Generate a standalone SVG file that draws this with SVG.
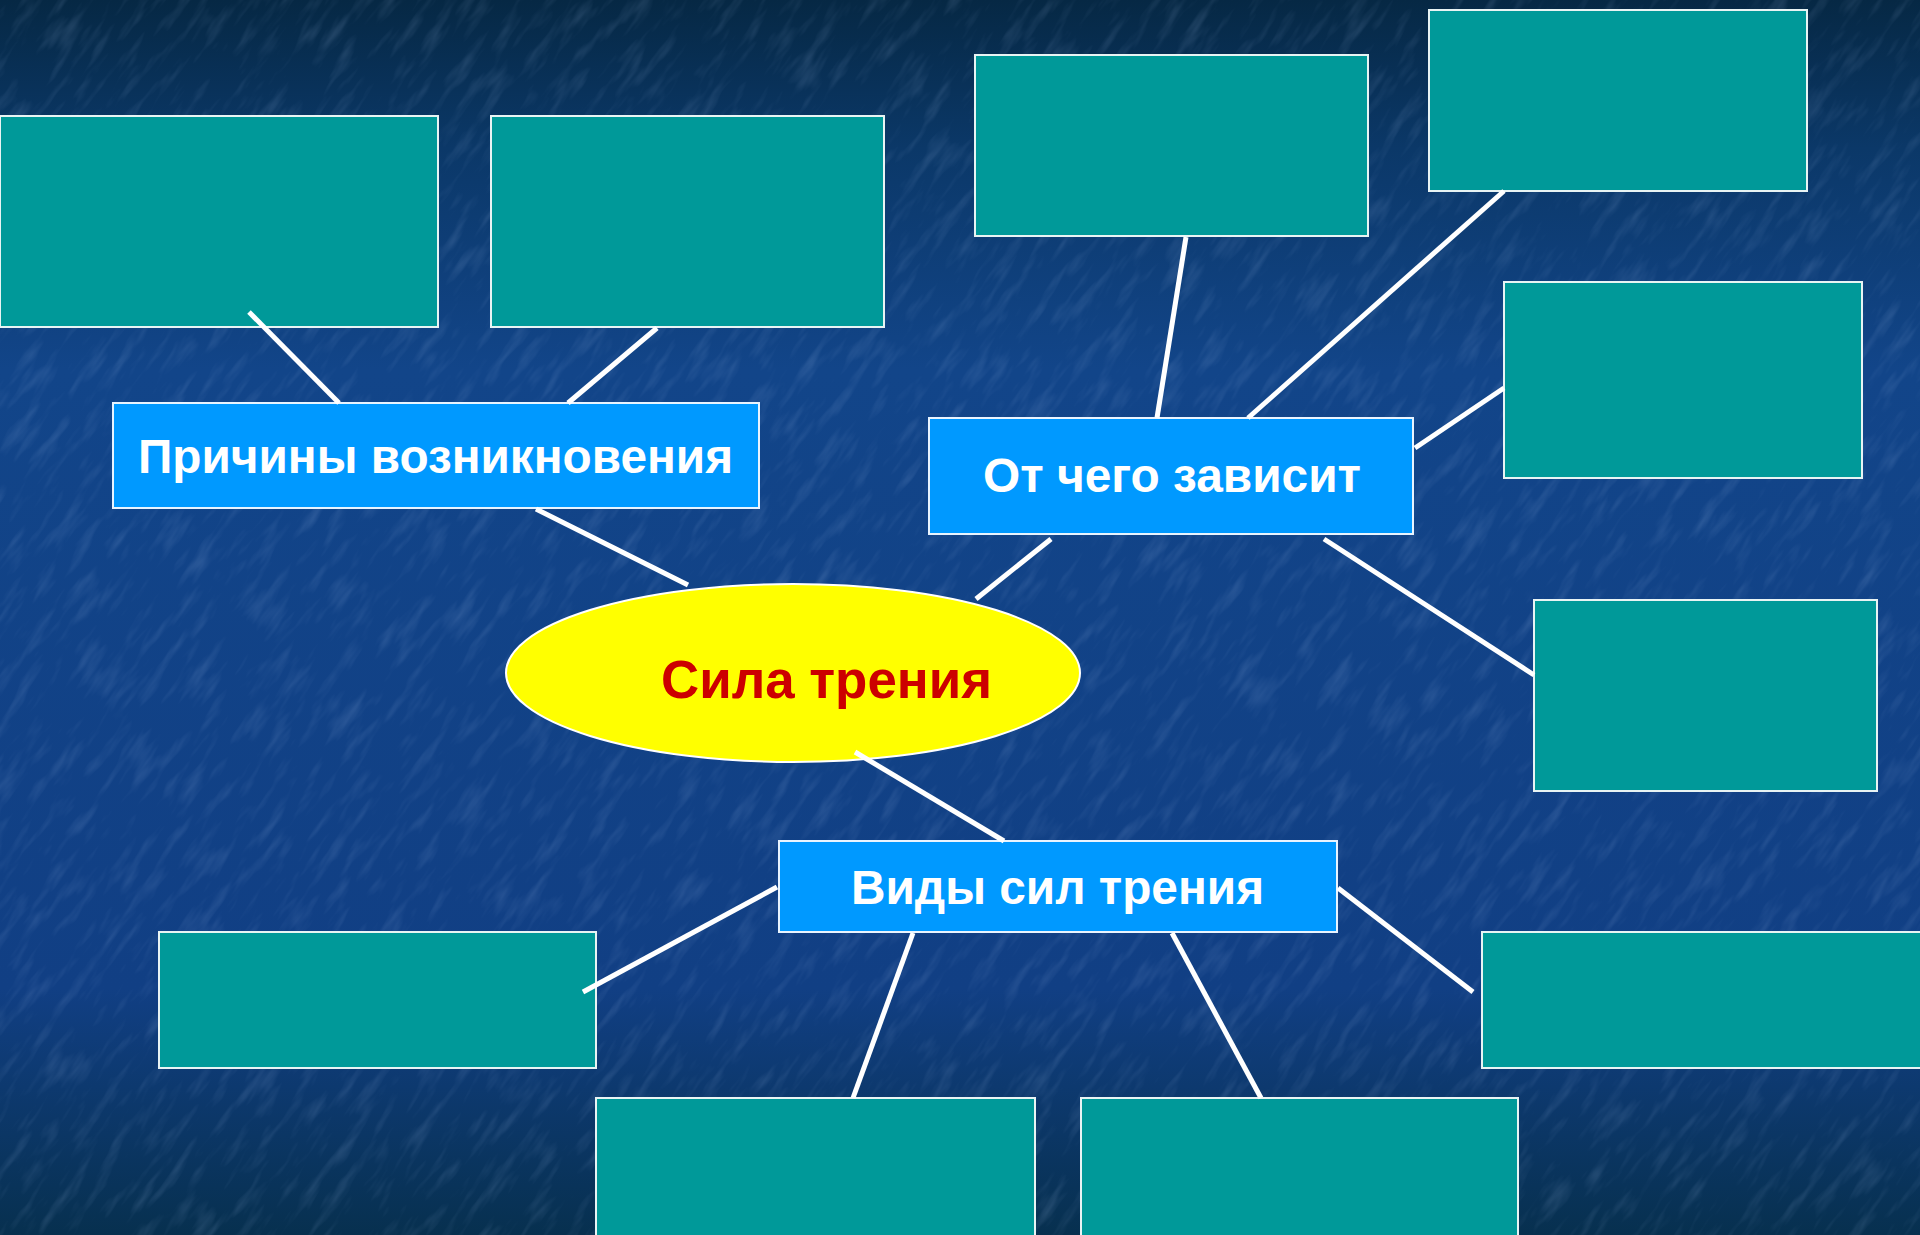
<svg xmlns="http://www.w3.org/2000/svg" width="1920" height="1235" viewBox="0 0 1920 1235">
<defs>
<linearGradient id="bg" x1="0" y1="0" x2="0" y2="1">
<stop offset="0" stop-color="#062844"/>
<stop offset="0.12" stop-color="#0b3868"/>
<stop offset="0.3" stop-color="#124589"/>
<stop offset="0.8" stop-color="#113f84"/>
<stop offset="1" stop-color="#07304f"/>
</linearGradient>
<filter id="tex" x="0" y="0" width="100%" height="100%">
<feTurbulence type="fractalNoise" baseFrequency="0.02 0.09" numOctaves="3" seed="4" result="n"/>
<feColorMatrix in="n" type="matrix" values="0 0 0 0 0.45  0 0 0 0 0.6  0 0 0 0 0.9  0 0 0 1.6 -0.8"/>
</filter>
<style>
.leaf{fill:#009999;stroke:#e8f4f4;stroke-width:2}
.head{fill:#0099ff;stroke:#e8f4ff;stroke-width:2}
.lbl{font-family:"Liberation Sans",Arial,sans-serif;font-weight:bold;font-size:48px;fill:#ffffff}
.conn line{stroke:#ffffff;stroke-width:5;stroke-linecap:butt}
</style>
</defs>
<rect width="1920" height="1235" fill="url(#bg)"/>
<g transform="rotate(-55 960 617)"><rect x="-600" y="-600" width="3120" height="2435" filter="url(#tex)" opacity="0.22"/></g>

<g id="leaf-tl1"><rect class="leaf" x="0" y="116" width="438" height="211"/></g>
<g id="leaf-tl2"><rect class="leaf" x="491" y="116" width="393" height="211"/></g>
<g id="leaf-t1"><rect class="leaf" x="975" y="55" width="393" height="181"/></g>
<g id="leaf-t2"><rect class="leaf" x="1429" y="10" width="378" height="181"/></g>
<g id="leaf-r1"><rect class="leaf" x="1504" y="282" width="358" height="196"/></g>
<g id="leaf-r2"><rect class="leaf" x="1534" y="600" width="343" height="191"/></g>
<g id="leaf-bl"><rect class="leaf" x="159" y="932" width="437" height="136"/></g>
<g id="leaf-bm1"><rect class="leaf" x="596" y="1098" width="439" height="140"/></g>
<g id="leaf-bm2"><rect class="leaf" x="1081" y="1098" width="437" height="140"/></g>
<g id="leaf-br"><rect class="leaf" x="1482" y="932" width="440" height="136"/></g>

<g id="node-causes"><rect class="head" x="113" y="403" width="646" height="105"/><text class="lbl" x="138" y="473" textLength="595" lengthAdjust="spacingAndGlyphs">Причины возникновения</text></g>
<g id="node-depends"><rect class="head" x="929" y="418" width="484" height="116"/><text class="lbl" x="983" y="492" textLength="378" lengthAdjust="spacingAndGlyphs">От чего зависит</text></g>
<g id="node-types"><rect class="head" x="779" y="841" width="558" height="91"/><text class="lbl" x="851" y="904" textLength="413" lengthAdjust="spacingAndGlyphs">Виды сил трения</text></g>
<g id="node-center"><ellipse cx="793" cy="673" rx="287" ry="89" fill="#ffff00" stroke="#ffffff" stroke-width="2"/><text x="661" y="698" font-family="'Liberation Sans',Arial,sans-serif" font-weight="bold" font-size="53" fill="#cc0000" textLength="331" lengthAdjust="spacingAndGlyphs">Сила трения</text></g>

<g id="connectors" class="conn">
<line x1="249" y1="312" x2="339" y2="403"/>
<line x1="657" y1="328" x2="568" y2="403"/>
<line x1="536" y1="509" x2="688" y2="585"/>
<line x1="1186" y1="237" x2="1157" y2="418"/>
<line x1="1504" y1="191" x2="1248" y2="418"/>
<line x1="1504" y1="388" x2="1415" y2="448"/>
<line x1="1324" y1="539" x2="1534" y2="675"/>
<line x1="1051" y1="539" x2="976" y2="599"/>
<line x1="855" y1="752" x2="1004" y2="841"/>
<line x1="777" y1="887" x2="583" y2="992"/>
<line x1="913" y1="933" x2="853" y2="1098"/>
<line x1="1172" y1="933" x2="1261" y2="1098"/>
<line x1="1338" y1="888" x2="1473" y2="992"/>
</g>
</svg>
